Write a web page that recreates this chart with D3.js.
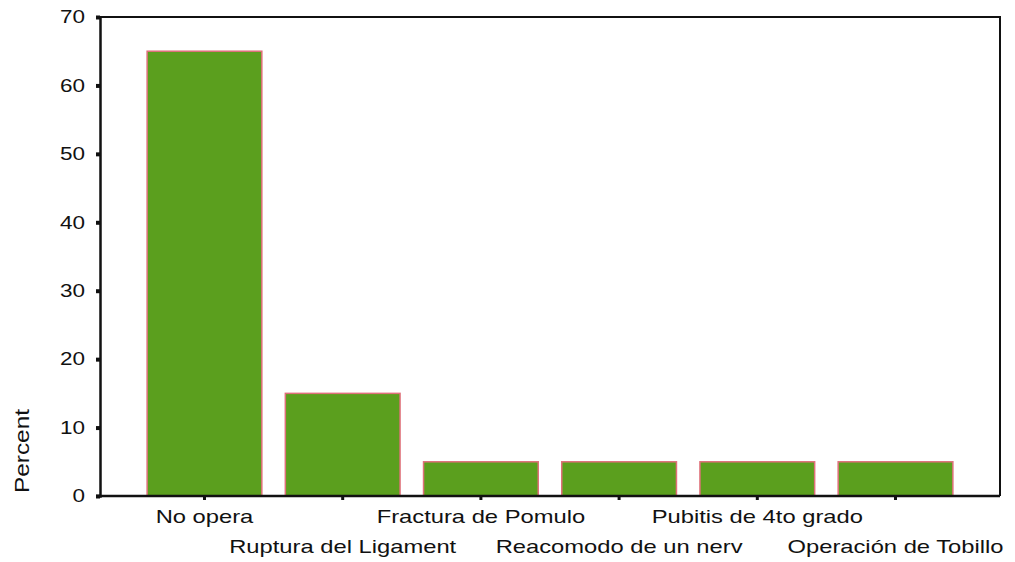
<!DOCTYPE html>
<html><head><meta charset="utf-8">
<script src="https://cdn.jsdelivr.net/npm/d3@7"></script>
<style>body{margin:0;background:#fff}svg{display:block}</style>
</head><body>
<svg id="c" width="1015" height="562"></svg>
<script>
const categories = ["No opera","Ruptura del Ligament","Fractura de Pomulo","Reacomodo de un nerv","Pubitis de 4to grado","Operación de Tobillo"];
const percents = [65, 15, 5, 5, 5, 5];
const yTicks = [0,10,20,30,40,50,60,70];

const svg = d3.select("#c");
const L = 100, R = 1000, T = 17, B = 496;
const x = d3.scaleBand().domain(categories).range([L, R]).paddingInner(0.17).paddingOuter(0.341);
const y = d3.scaleLinear().domain([0, 70]).range([B, T]);
const font = "Arial, 'Liberation Sans', sans-serif";
const stretch = "scale(1.25,1)";

// bars
svg.append("g").selectAll("rect").data(percents).join("rect")
  .attr("x", (d,i) => x(categories[i]))
  .attr("y", d => y(d))
  .attr("width", x.bandwidth())
  .attr("height", d => y(0) - y(d))
  .attr("fill", "#5b9f1e")
  .attr("stroke", "#e0707a")
  .attr("stroke-width", 1.5);

// frame top and right
svg.append("path").attr("d", `M${L},${T}H${R}V${B}`).attr("fill","none").attr("stroke","#111").attr("stroke-width",2);

// y axis
const ya = svg.append("g").attr("transform", `translate(${L},0)`)
  .call(d3.axisLeft(y).tickValues(yTicks).tickSize(4).tickPadding(8));
ya.select(".domain").attr("stroke","#111").attr("stroke-width",2.5);
ya.selectAll(".tick line").attr("stroke","#111").attr("stroke-width",4);
ya.selectAll(".tick text").attr("font-family", font).attr("font-size", 18).attr("fill","#111")
  .attr("transform", stretch);

// x axis
const xa = svg.append("g").attr("transform", `translate(0,${B})`)
  .call(d3.axisBottom(x).tickSize(3).tickPadding(0));
xa.select(".domain").attr("stroke","#111").attr("stroke-width",2.5).attr("d", `M${L-4},0H${R}`);
xa.selectAll(".tick line").attr("stroke","#111").attr("stroke-width",3).attr("y1",1).attr("y2",4);
xa.selectAll(".tick text").attr("font-family", font).attr("font-size", 19).attr("fill","#111")
  .attr("dy", null)
  .attr("y", (d,i) => i % 2 === 0 ? 27 : 57)
  .attr("transform", stretch);

// y label
svg.append("text").attr("transform", "translate(29,451) rotate(-90)")
  .attr("text-anchor","middle").attr("font-family", font).attr("font-size", 20)
  .attr("fill","#111").attr("textLength", 84).attr("lengthAdjust","spacingAndGlyphs")
  .text("Percent");
</script>
</body></html>
